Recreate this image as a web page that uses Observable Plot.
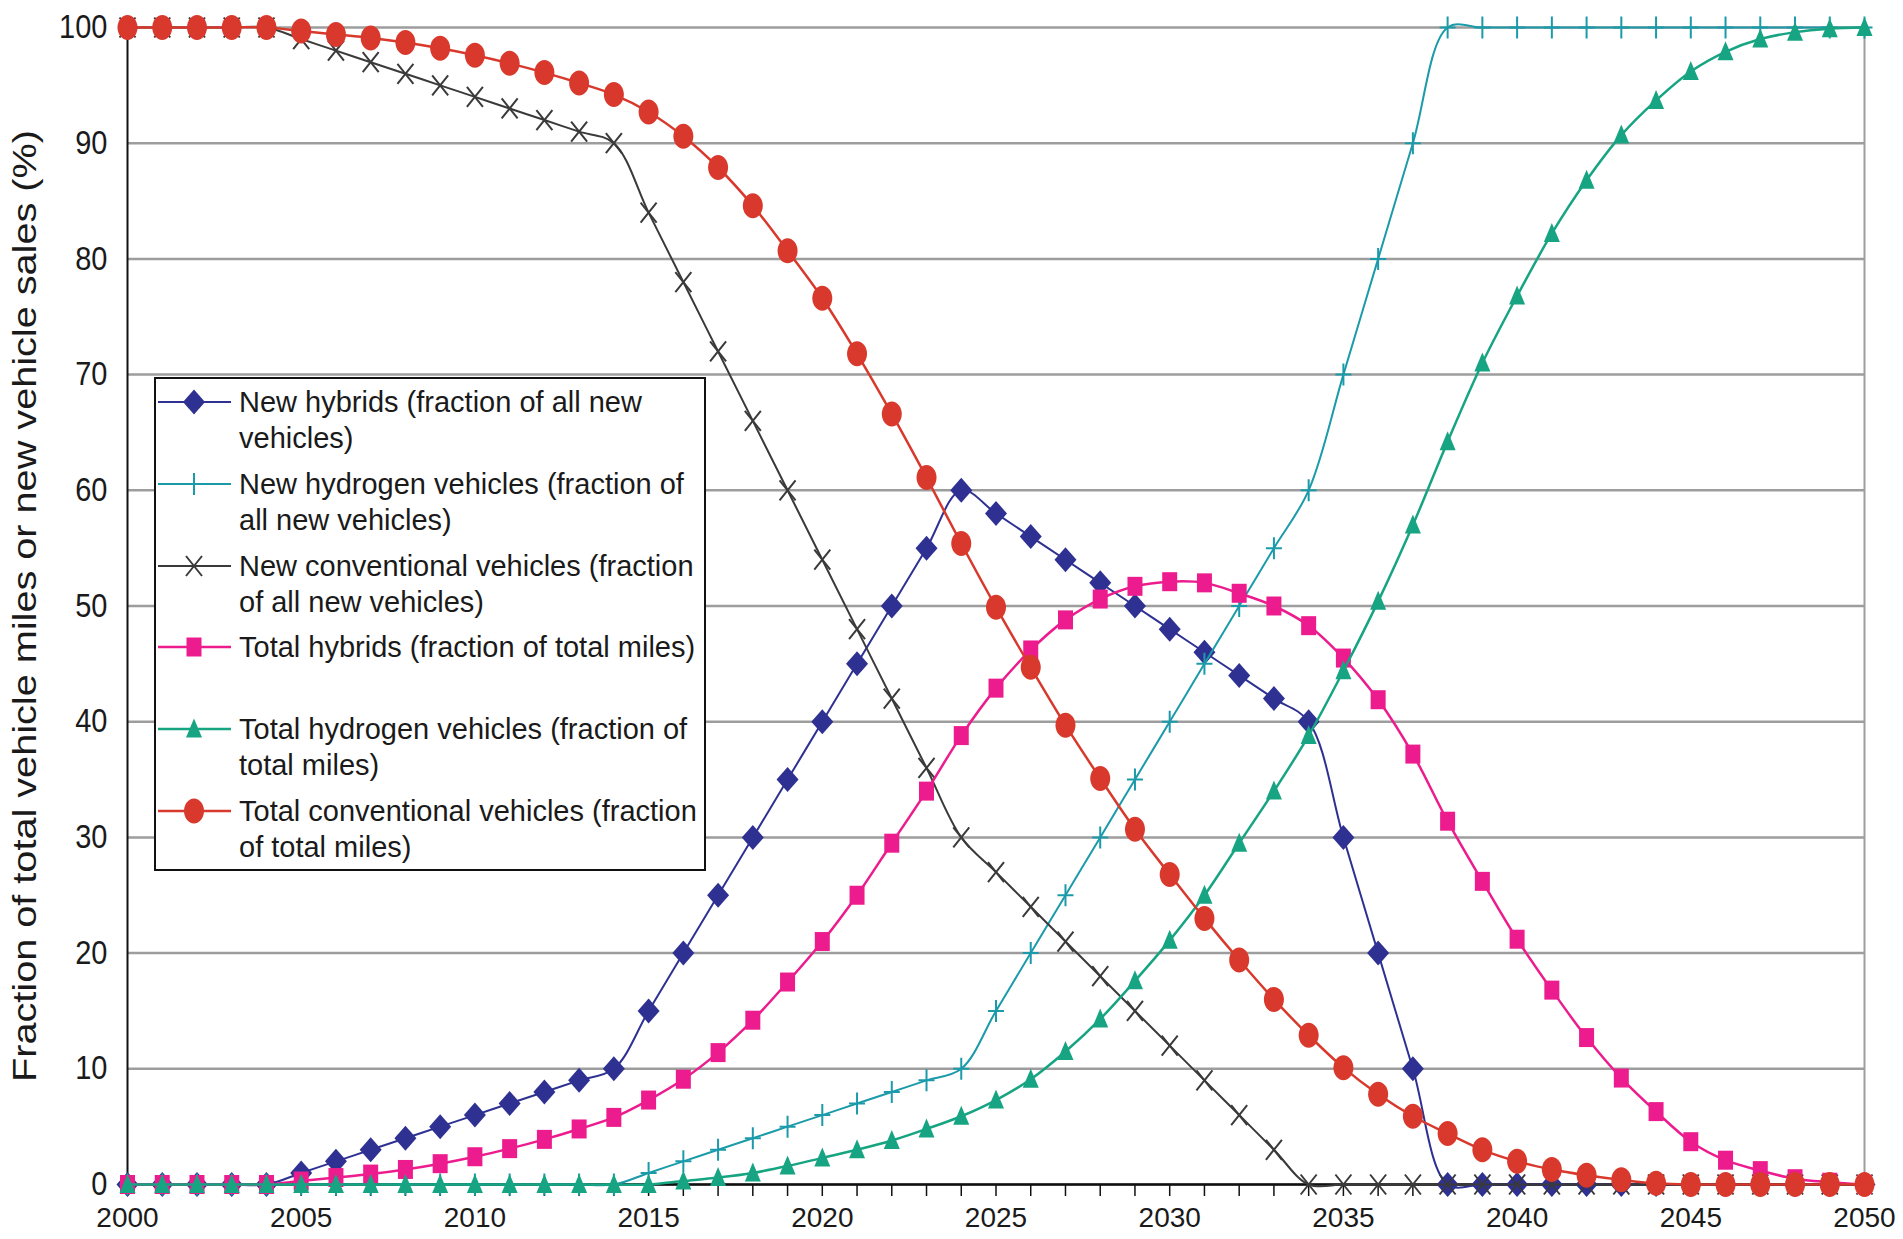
<!DOCTYPE html>
<html>
<head>
<meta charset="utf-8">
<script src="https://cdn.jsdelivr.net/npm/d3@7"></script>
<script src="https://cdn.jsdelivr.net/npm/@observablehq/plot@0.6"></script>
<style>
html, body { margin: 0; padding: 0; background: #fff; }
#wrap { position: relative; width: 1903px; height: 1239px; overflow: hidden; font-family: "Liberation Sans", Arial, sans-serif; }
#legend { position: absolute; left: 154px; top: 377px; width: 552px; height: 494px; box-sizing: border-box; border: 2px solid #111; background: #fff; }
.lt { position: absolute; left: 83px; height: 36px; line-height: 36px; font-size: 29px; color: #1a1a1a; white-space: nowrap; }
.ls { position: absolute; left: 2px; width: 76px; height: 36px; overflow: visible; }
</style>
</head>
<body>
<div id="wrap"></div>
<script>
// ---------------- data ----------------
const years = [2000,2001,2002,2003,2004,2005,2006,2007,2008,2009,2010,2011,2012,2013,2014,2015,2016,2017,2018,2019,2020,2021,2022,2023,2024,2025,2026,2027,2028,2029,2030,2031,2032,2033,2034,2035,2036,2037,2038,2039,2040,2041,2042,2043,2044,2045,2046,2047,2048,2049,2050];

const newHybrids = [0,0,0,0,0, 1,2,3,4,5,6,7,8,9,10, 15,20,25,30,35,40,45,50,55,60, 58,56,54,52,50,48,46,44,42,40, 30,20,10,0, 0,0,0,0,0,0,0,0,0,0,0,0];

const newHydrogen = [0,0,0,0,0,0,0,0,0,0,0,0,0,0,0, 1,2,3,4,5,6,7,8,9,10, 15,20,25,30,35,40,45,50,55,60, 70,80,90,100, 100,100,100,100,100,100,100,100,100,100,100,100];

const newConventional = [100,100,100,100,100, 99,98,97,96,95,94,93,92,91,90, 84,78,72,66,60,54,48,42,36,30, 27,24,21,18,15,12,9,6,3,0, 0,0,0,0,0,0,0,0,0,0,0,0,0,0,0,0];

const totalHybrids = [0,0,0,0,0, 0.3,0.6,0.9,1.3,1.8,2.4,3.1,3.9,4.8,5.8, 7.3,9.1,11.4,14.2,17.5,21.0,25.0,29.5,34.0,38.8, 42.9,46.2,48.8,50.6,51.7,52.1,52.0,51.1,50.0,48.3, 45.5,41.9,37.2,31.4,26.2,21.2,16.8,12.7,9.2,6.3, 3.7,2.1,1.2,0.5,0.2,0];

const totalHydrogen = [0,0,0,0,0,0,0,0,0,0,0,0,0,0,0,0, 0.3,0.6,1.0,1.6,2.3,3.0,3.8,4.8,5.9, 7.3,9.1,11.5,14.3,17.6,21.1,25.0,29.5,34.0,38.8, 44.4,50.4,57.0,64.2,71.0,76.8,82.2,86.8,90.7,93.7, 96.2,97.9,99.0,99.6,99.9,100];

const totalConventional = [100,100,100,100,100, 99.7,99.4,99.1,98.7,98.2,97.6,96.9,96.1,95.2,94.2, 92.7,90.6,87.9,84.6,80.7,76.6,71.8,66.6,61.1,55.4, 49.9,44.7,39.7,35.1,30.7,26.8,23.0,19.4,16.0,12.9, 10.1,7.8,5.9,4.4,3.0,2.0,1.3,0.8,0.4,0.1, 0,0,0,0,0,0];

const xLabelTicks = [2000,2005,2010,2015,2020,2025,2030,2035,2040,2045,2050];
const yTicks = [0,10,20,30,40,50,60,70,80,90,100];
const yTitle = "Fraction of total vehicle miles or new vehicle sales (%)";

const legendLabels = [
  ["New hybrids (fraction of all new", "vehicles)"],
  ["New hydrogen vehicles (fraction of", "all new vehicles)"],
  ["New conventional vehicles (fraction", "of all new vehicles)"],
  ["Total hybrids (fraction of total miles)"],
  ["Total hydrogen vehicles (fraction of", "total miles)"],
  ["Total conventional vehicles (fraction", "of total miles)"]
];

// ---------------- marker shapes ----------------
const K = 0.5523;
const symEllipse = { draw(c) { const rx = 10, ry = 12.5;
  c.moveTo(rx, 0);
  c.bezierCurveTo(rx, ry*K, rx*K, ry, 0, ry);
  c.bezierCurveTo(-rx*K, ry, -rx, ry*K, -rx, 0);
  c.bezierCurveTo(-rx, -ry*K, -rx*K, -ry, 0, -ry);
  c.bezierCurveTo(rx*K, -ry, rx, -ry*K, rx, 0);
  c.closePath(); } };
const symDiamond = { draw(c) { c.moveTo(0, -12.5); c.lineTo(11, 0); c.lineTo(0, 12.5); c.lineTo(-11, 0); c.closePath(); } };
const symSquare = { draw(c) { c.moveTo(-7.5, -9.5); c.lineTo(7.5, -9.5); c.lineTo(7.5, 9.5); c.lineTo(-7.5, 9.5); c.closePath(); } };
const symTriangle = { draw(c) { c.moveTo(0, -10.5); c.lineTo(8, 8.5); c.lineTo(-8, 8.5); c.closePath(); } };
const symPlus = { draw(c) { c.moveTo(-8, 0); c.lineTo(8, 0); c.moveTo(0, -11); c.lineTo(0, 11); } };
const symTimes = { draw(c) { c.moveTo(-8, -10); c.lineTo(8, 10); c.moveTo(8, -10); c.lineTo(-8, 10); } };

const seriesStyle = [
  { values: newHybrids,        color: "#2e3192", sym: symDiamond,  filled: true,  lw: 2 },
  { values: newHydrogen,       color: "#1b9aaa", sym: symPlus,     filled: false, lw: 2 },
  { values: newConventional,   color: "#3a3a3a", sym: symTimes,    filled: false, lw: 2 },
  { values: totalHybrids,      color: "#ec1c8e", sym: symSquare,   filled: true,  lw: 2.5 },
  { values: totalHydrogen,     color: "#17a482", sym: symTriangle, filled: true,  lw: 2.5 },
  { values: totalConventional, color: "#d8392c", sym: symEllipse,  filled: true,  lw: 2.5 }
];

// ---------------- chart ----------------
const marks = [
  Plot.gridY(yTicks, { stroke: "#9d9d9d", strokeWidth: 2.5, strokeOpacity: 1 }),
  Plot.ruleX([2050], { y1: 0, y2: 100, stroke: "#9d9d9d", strokeWidth: 2 }),
  Plot.axisY(yTicks, { tickSize: 0, tickPadding: 20, tickFormat: d => String(d), label: null, fontSize: 29, fill: "#1a1a1a" }),
  Plot.axisX(years, { tickSize: 12, tickFormat: () => "", label: null, stroke: "#111", strokeWidth: 1.5 }),
  Plot.axisX(xLabelTicks, { tickSize: 0, tickPadding: 23, tickFormat: d => String(d), label: null, fontSize: 28, fill: "#1a1a1a" }),
  Plot.ruleX([2000], { stroke: "#111", strokeWidth: 2 }),
  Plot.ruleY([0], { stroke: "#111", strokeWidth: 2.5 }),
  Plot.text([yTitle], { frameAnchor: "left", rotate: -90, dx: -102, fontSize: 34, fill: "#1a1a1a", textAnchor: "middle" })
];

seriesStyle.forEach(s => {
  const data = years.map((year, i) => ({ year, value: s.values[i] }));
  marks.push(Plot.line(data, { x: "year", y: "value", stroke: s.color, strokeWidth: s.lw, curve: "catmull-rom" }));
  marks.push(Plot.dot(data, {
    x: "year", y: "value", symbol: s.sym, r: 5,
    fill: s.filled ? s.color : "none",
    stroke: s.filled ? "none" : s.color,
    strokeWidth: s.filled ? 0 : 2
  }));
});

const chart = Plot.plot({
  width: 1903, height: 1239,
  marginLeft: 127, marginRight: 39, marginTop: 27, marginBottom: 55,
  x: { domain: [2000, 2050] },
  y: { domain: [0, 100] },
  style: { fontFamily: "'Liberation Sans', Arial, sans-serif", fontSize: "29px", background: "#fff", color: "#1a1a1a", overflow: "hidden" },
  marks
});

const wrap = document.getElementById("wrap");
wrap.appendChild(chart);

// slightly taller glyphs for the y tick labels, as in the reference
chart.querySelectorAll('g[aria-label="y-axis tick label"] text').forEach(t => {
  const tr = t.getAttribute("transform");
  if (tr) t.setAttribute("transform", tr + " scale(1,1.15)");
});
// stretch y title to its length in the reference
chart.querySelectorAll('g[aria-label="text"] text').forEach(t => {
  t.setAttribute("textLength", "952");
  t.setAttribute("lengthAdjust", "spacingAndGlyphs");
});

// ---------------- legend ----------------
const legend = document.createElement("div");
legend.id = "legend";
wrap.appendChild(legend);
const entryStep = 81.8;
legendLabels.forEach((lines, i) => {
  const s = seriesStyle[i];
  const center = 23 + i * entryStep;
  const sw = document.createElementNS("http://www.w3.org/2000/svg", "svg");
  sw.setAttribute("class", "ls");
  sw.setAttribute("width", "76");
  sw.setAttribute("height", "36");
  sw.style.top = (center - 18) + "px";
  const ln = document.createElementNS("http://www.w3.org/2000/svg", "line");
  ln.setAttribute("x1", "0"); ln.setAttribute("x2", "73");
  ln.setAttribute("y1", "18"); ln.setAttribute("y2", "18");
  ln.setAttribute("stroke", s.color); ln.setAttribute("stroke-width", s.lw);
  sw.appendChild(ln);
  const mk = document.createElementNS("http://www.w3.org/2000/svg", "path");
  mk.setAttribute("d", d3.symbol(s.sym)());
  mk.setAttribute("transform", "translate(36,18)");
  mk.setAttribute("fill", s.filled ? s.color : "none");
  mk.setAttribute("stroke", s.filled ? "none" : s.color);
  mk.setAttribute("stroke-width", s.filled ? 0 : 2);
  sw.appendChild(mk);
  legend.appendChild(sw);
  lines.forEach((txt, j) => {
    const d = document.createElement("div");
    d.className = "lt";
    d.style.top = (center - 18 + j * 36) + "px";
    d.textContent = txt;
    legend.appendChild(d);
  });
});
</script>
</body>
</html>
